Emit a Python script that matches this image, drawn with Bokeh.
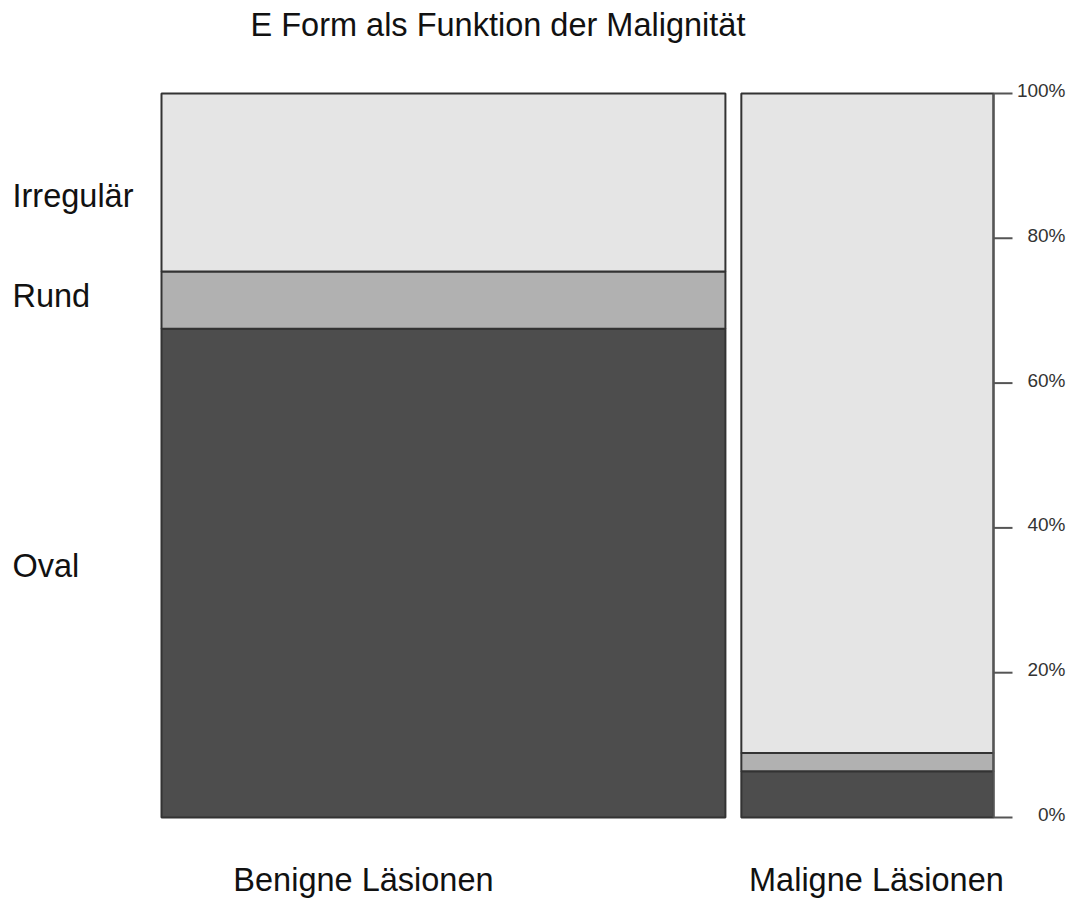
from bokeh.plotting import figure
from bokeh.models import Range1d, ColumnDataSource
from bokeh.core.properties import value
from bokeh.embed import file_html
from bokeh.resources import INLINE

# ---- data ----
groups = ["Benigne Läsionen", "Maligne Läsionen"]
group_share = [0.691, 0.309]          # column widths (share of lesions)
shapes = ["Oval", "Rund", "Irregulär"]
benigne = [0.675, 0.079, 0.246]       # share within benign lesions
maligne = [0.064, 0.025, 0.911]       # share within malignant lesions
shape_colors = ["#4d4d4d", "#b1b1b1", "#e5e5e5"]
tick_values = [0.0, 0.2, 0.4, 0.6, 0.8, 1.0]
tick_labels = ["0%", "20%", "40%", "60%", "80%", "100%"]
title_text = "E Form als Funktion der Malignität"
gap = 0.0195

FONT = value("Liberation Sans")

# ---- geometry (canvas pixels) ----
W, H = 1071, 899
PLOT_L, PLOT_W = 161, 832        # left edge / width of the mosaic
PLOT_T, PLOT_B = 93, 817         # top (100%) / bottom (0%)
XPX = PLOT_W / (1 + gap)
YPX = PLOT_B - PLOT_T


def xd(px):
    return (px - PLOT_L) / XPX


def yd(py):
    return (PLOT_B - py) / YPX


p = figure(width=W, height=H, min_border=0,
           x_range=Range1d(xd(0), xd(W)), y_range=Range1d(yd(H), yd(0)),
           x_axis_location=None, y_axis_location=None,
           output_backend="svg", toolbar_location=None,
           background_fill_color="white", border_fill_color="white")
p.outline_line_color = None
p.xgrid.visible = False
p.ygrid.visible = False

# ---- mosaic rectangles ----
lefts, rights, bottoms, tops, colors = [], [], [], [], []
x0 = 0.0
col_centers = []
for gi, vals in enumerate([benigne, maligne]):
    x1 = x0 + group_share[gi]
    col_centers.append((x0 + x1) / 2)
    cum = 0.0
    for si, v in enumerate(vals):
        lefts.append(x0); rights.append(x1)
        bottoms.append(cum); tops.append(cum + v)
        colors.append(shape_colors[si])
        cum += v
    x0 = x1 + gap

src = ColumnDataSource(dict(left=lefts, right=rights, bottom=bottoms, top=tops, color=colors))
p.quad(left="left", right="right", bottom="bottom", top="top", source=src,
       fill_color="color", line_color="#333333", line_width=2)

# ---- right-hand percentage axis ----
x_max = 1 + gap
p.segment(x0=[x_max], y0=[0], x1=[x_max], y1=[1], line_color="#555555", line_width=2)
tick_len = 19 / XPX
p.segment(x0=[x_max] * len(tick_values), y0=tick_values,
          x1=[x_max + tick_len] * len(tick_values), y1=tick_values,
          line_color="#555555", line_width=2)
p.text(x=[x_max + 72 / XPX] * len(tick_values), y=[t + 3 / YPX for t in tick_values],
       text=tick_labels, text_align="right", text_baseline="middle",
       text_font=FONT, text_font_size="19px", text_color="#333333")

# ---- title ----
p.text(x=[xd(250)], y=[yd(24.5)], text=[title_text], text_align="left",
       text_baseline="middle", text_font=FONT, text_font_size="32.5px",
       text_color="#111111")

# ---- column labels (bottom) ----
label_shift_px = [-80, 9]
p.text(x=[c + s / XPX for c, s in zip(col_centers, label_shift_px)],
       y=[yd(879.5)] * len(groups), text=groups, text_align="center",
       text_baseline="middle", text_font=FONT, text_font_size="32.5px",
       text_color="#111111")

# ---- shape labels (left), near band centres of the first column ----
band_mid = []
cum = 0.0
for v in benigne:
    band_mid.append(cum + v / 2)
    cum += v
shift_px = [7, 4, -13]
p.text(x=[xd(12)] * len(shapes), y=[m + s / YPX for m, s in zip(band_mid, shift_px)],
       text=shapes, text_align="left", text_baseline="middle",
       text_font=FONT, text_font_size="32.5px", text_color="#111111")

open("out.html", "w").write(file_html(p, INLINE))
